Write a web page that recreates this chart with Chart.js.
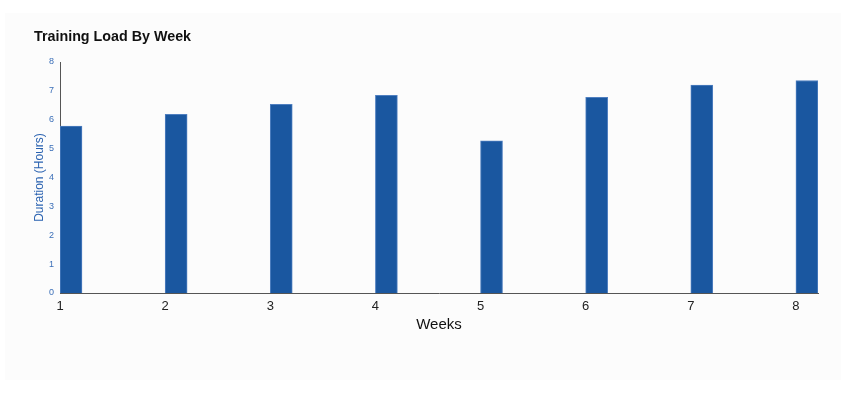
<!DOCTYPE html>
<html>
<head>
<meta charset="utf-8">
<script src="https://cdn.jsdelivr.net/npm/chart.js@4"></script>
<style>
  html, body { margin: 0; padding: 0; background: #ffffff; }
  body { width: 846px; height: 393px; position: relative; overflow: hidden; }
  #panel { position: absolute; left: 5px; top: 13px; width: 836px; height: 367px; background: #fcfcfc; }
  #wrap { position: absolute; left: 0; top: 0; width: 846px; height: 393px; }
</style>
</head>
<body>
<div id="panel"></div>
<div id="wrap"><canvas id="c" width="846" height="393"></canvas></div>
<script>
const weeks = [1, 2, 3, 4, 5, 6, 7, 8];
const durationHours = [5.78, 6.19, 6.53, 6.85, 5.27, 6.78, 7.2, 7.36];
const yTicks = [0, 1, 2, 3, 4, 5, 6, 7, 8];

const barColor = '#1a57a0';
const points = weeks.map((w, i) => ({ x: w, y: durationHours[i] }));

new Chart(document.getElementById('c'), {
  type: 'bar',
  data: {
    datasets: [
      { label: 'spacer', data: [], backgroundColor: 'rgba(0,0,0,0)' },
      {
        label: 'Duration',
        data: points,
        backgroundColor: barColor,
        borderColor: '#4f7fc0',
        borderWidth: { top: 1, left: 1, right: 1, bottom: 0 },
        borderSkipped: 'bottom'
      }
    ]
  },
  options: {
    responsive: false,
    animation: false,
    devicePixelRatio: 1,
    barThickness: 22,
    layout: { padding: { left: 34, right: 28, top: 0, bottom: 55 } },
    plugins: {
      legend: { display: false },
      tooltip: { enabled: false },
      title: {
        display: true,
        text: 'Training Load By Week',
        align: 'start',
        color: '#111111',
        font: { family: 'Liberation Sans, Arial, sans-serif', size: 14.3, weight: 'bold', lineHeight: 1.2 },
        padding: { top: 28, bottom: 16.84 }
      }
    },
    scales: {
      x: {
        type: 'linear',
        min: weeks[0],
        max: weeks[weeks.length - 1] + 0.21,
        offset: false,
        grid: { display: false, drawTicks: false },
        border: { display: true, color: '#555555', width: 1 },
        afterBuildTicks: (s) => { s.ticks = weeks.map(v => ({ value: v })); },
        afterFit: (s) => { s.height = 45; },
        ticks: {
          color: '#222222',
          padding: 6,
          maxRotation: 0,
          autoSkip: false,
          font: { family: 'Liberation Sans, Arial, sans-serif', size: 13 }
        },
        title: {
          display: true,
          text: 'Weeks',
          color: '#111111',
          font: { family: 'Liberation Sans, Arial, sans-serif', size: 15 },
          padding: { top: 0, bottom: 4 }
        }
      },
      y: {
        min: 0,
        max: 8,
        grid: { display: false, drawTicks: false },
        border: { display: true, color: '#555555', width: 1 },
        afterBuildTicks: (s) => { s.ticks = yTicks.map(v => ({ value: v })); },
        afterFit: (s) => { s.width = 26; },
        ticks: {
          color: '#3b6fb8',
          padding: 6,
          font: { family: 'Liberation Sans, Arial, sans-serif', size: 9 }
        },
        title: {
          display: true,
          text: 'Duration (Hours)',
          color: '#2a62b0',
          font: { family: 'Liberation Sans, Arial, sans-serif', size: 12, lineHeight: 1 },
          padding: { top: 0, bottom: 0 }
        }
      }
    }
  }
});
</script>
</body>
</html>
